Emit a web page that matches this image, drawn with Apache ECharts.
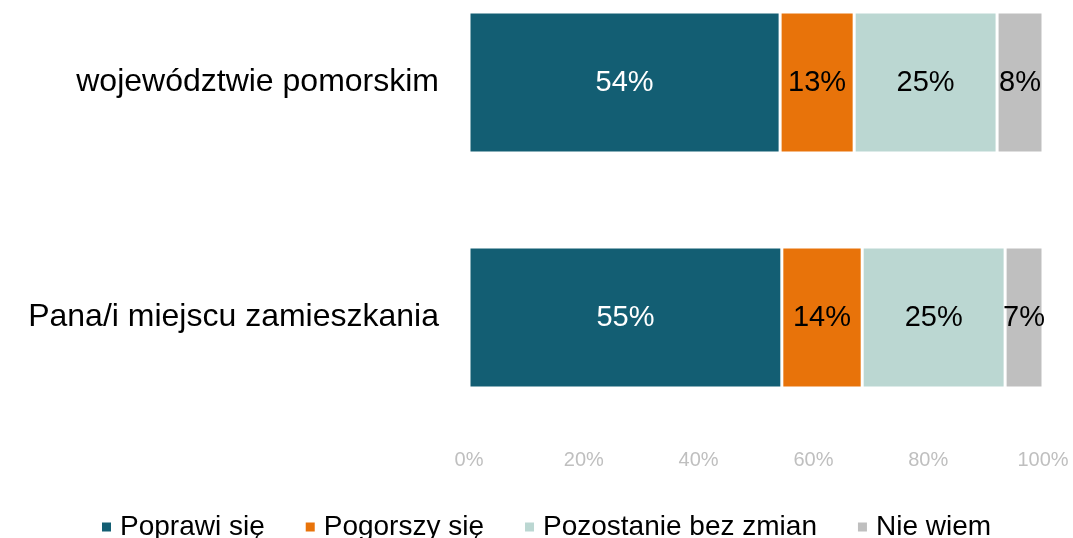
<!DOCTYPE html>
<html>
<head>
<meta charset="utf-8">
<script src="https://cdn.jsdelivr.net/npm/echarts@6/dist/echarts.min.js"></script>
<style>
  html, body { margin: 0; padding: 0; background: #fff; overflow: hidden; }
  #wrap { width: 1073px; height: 538px; overflow: hidden; position: relative; }
  /* the plot starts above the page top, so the chart box is shifted up */
  #chart { width: 1073px; height: 573px; position: absolute; top: -35px; left: 0; }
</style>
</head>
<body>
<div id="wrap"><div id="chart"></div></div>
<script>
// categories, bottom to top as echarts draws them
const categories = ["Pana/i miejscu zamieszkania", "województwie pomorskim"];
const seriesNames = ["Poprawi się", "Pogorszy się", "Pozostanie bez zmian", "Nie wiem"];
const poprawi = [54.5, 54.2];
const pogorszy = [14.0, 12.9];
const bezZmian = [24.9, 24.9];
const nieWiem = [6.6, 8.0];
const colors = ["#135e73", "#e8730a", "#bbd7d2", "#bfbfbf"];
const labelColors = ["#fff", "#000", "#000", "#000"];
const xTicks = [0, 20, 40, 60, 80, 100];

const font = "Liberation Sans, Arial, sans-serif";
const values = [poprawi, pogorszy, bezZmian, nieWiem];

let myChart = echarts.init(document.getElementById("chart"));
let option = {
  backgroundColor: "#fff",
  animation: false,
  grid: { left: 469, right: 30, top: 0, bottom: 103, containLabel: false },
  xAxis: {
    type: "value",
    min: xTicks[0],
    max: xTicks[xTicks.length - 1],
    interval: 20,
    axisLine: { show: false },
    axisTick: { show: false },
    splitLine: { show: false },
    axisLabel: {
      formatter: "{value}%",
      color: "#bfbfbf",
      fontSize: 20,
      fontFamily: font,
      margin: 15
    }
  },
  yAxis: {
    type: "category",
    data: categories,
    axisLine: { show: false },
    axisTick: { show: false },
    axisLabel: { color: "#000", fontSize: 32, fontFamily: font, margin: 30 }
  },
  legend: {
    bottom: -8,
    left: 95,
    itemWidth: 11,
    itemHeight: 11,
    itemGap: 39,
    icon: "rect",
    textStyle: { color: "#000", fontSize: 28, fontFamily: font, padding: [0, 0, 0, 3] },
    data: seriesNames
  },
  series: seriesNames.map((name, i) => ({
    name: name,
    type: "bar",
    stack: "total",
    barWidth: "60%",
    data: values[i],
    itemStyle: { color: colors[i], borderColor: "#fff", borderWidth: 1.5 },
    label: {
      show: true,
      position: "inside",
      color: labelColors[i],
      fontSize: 29,
      fontFamily: font,
      formatter: p => Math.round(p.value) + "%"
    }
  }))
};
myChart.setOption(option);
</script>
</body>
</html>
